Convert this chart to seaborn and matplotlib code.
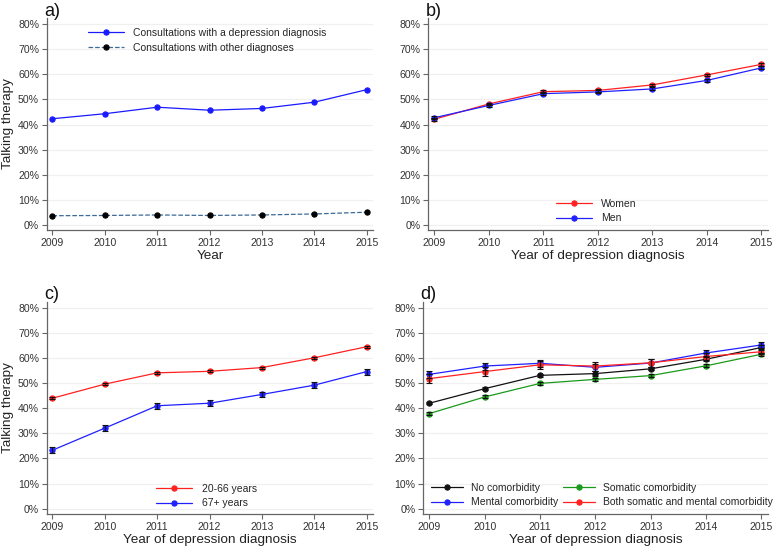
import numpy as np
import pandas as pd
import matplotlib
matplotlib.use("Agg")
import matplotlib.pyplot as plt
import seaborn as sns
from matplotlib.ticker import FuncFormatter

years = [2009, 2010, 2011, 2012, 2013, 2014, 2015]

# Panel a
a_depression = [42.3, 44.3, 46.9, 45.7, 46.4, 48.9, 53.9]
a_other = [3.6, 3.7, 3.9, 3.7, 3.9, 4.3, 5.0]

# Panel b
b_women = [42.1, 48.2, 53.1, 53.6, 55.8, 59.8, 64.0]
b_women_err = [0.6, 0.5, 0.5, 0.5, 0.5, 0.5, 0.5]
b_men = [42.7, 47.6, 52.3, 53.0, 54.2, 57.6, 62.6]
b_men_err = [0.6, 0.6, 0.6, 0.6, 0.6, 0.6, 0.6]

# Panel c
c_young = [44.0, 49.6, 54.1, 54.7, 56.2, 60.1, 64.5]
c_young_err = [0.4, 0.4, 0.4, 0.4, 0.4, 0.4, 0.4]
c_old = [23.3, 32.1, 41.0, 42.0, 45.5, 49.2, 54.6]
c_old_err = [1.1, 1.1, 1.1, 1.1, 1.1, 1.1, 1.2]

# Panel d
d_none = [42.0, 47.8, 53.1, 53.8, 55.7, 59.5, 64.2]
d_none_err = [0.5, 0.5, 0.5, 0.9, 0.6, 0.8, 0.9]
d_mental = [53.5, 56.8, 57.9, 56.3, 58.0, 62.0, 65.2]
d_mental_err = [1.3, 1.4, 1.3, 1.5, 1.5, 1.1, 1.2]
d_somatic = [37.9, 44.5, 49.9, 51.5, 53.0, 56.9, 61.5]
d_somatic_err = [0.6, 0.6, 0.6, 0.6, 0.6, 0.6, 0.6]
d_both = [51.8, 54.6, 57.3, 56.8, 58.1, 60.6, 62.5]
d_both_err = [1.8, 1.8, 1.7, 1.8, 1.7, 1.2, 1.0]

panel_labels = ["a)", "b)", "c)", "d)"]
x_labels = ["Year", "Year of depression diagnosis",
            "Year of depression diagnosis", "Year of depression diagnosis"]
y_label = "Talking therapy"

sns.set_theme(style="white")
plt.rcParams['font.family'] = ['Liberation Sans', 'DejaVu Sans']

W, H = 778, 547
fig = plt.figure(figsize=(W / 100, H / 100), dpi=100)

def box(l, r, t, b):
    return [l / W, 1 - b / H, (r - l) / W, (b - t) / H]

axes = [
    fig.add_axes(box(46.7, 373, 18, 230)),
    fig.add_axes(box(428.3, 768, 18, 230)),
    fig.add_axes(box(46.7, 373, 301.5, 514)),
    fig.add_axes(box(423.3, 768, 301.5, 514)),
]

tick_color = "#333333"
spine_color = "#666666"

def style(ax, label, xlabel, ylabel):
    ax.set_xlim(2008.89, 2015.12)
    ax.set_ylim(-2.1, 82.5)
    ax.set_yticks(range(0, 81, 10))
    ax.set_xticks(years)
    ax.yaxis.set_major_formatter(FuncFormatter(lambda v, p: f"{int(v)}%"))
    ax.grid(axis="y", color="#f0f0f0", linewidth=0.9)
    ax.set_axisbelow(True)
    for s in ["top", "right"]:
        ax.spines[s].set_visible(False)
    for s in ["left", "bottom"]:
        ax.spines[s].set_color(spine_color)
        ax.spines[s].set_linewidth(0.9)
    ax.tick_params(axis="both", which="major", direction="out", length=3.5,
                   width=0.8, color=spine_color, labelsize=7.6,
                   labelcolor=tick_color, pad=2, left=True, bottom=True)
    ax.set_xlabel(xlabel, fontsize=9.7, color="#222222", labelpad=1.5)
    if ylabel:
        ax.set_ylabel(ylabel, fontsize=9.7, color="#222222", labelpad=3)
    else:
        ax.set_ylabel("")
    ax.text(-0.008, 1.01, label, transform=ax.transAxes, fontsize=13,
            color="#111111", ha="left", va="baseline")

def series(ax, vals, color, label, err=None, ls="-", mcolor=None):
    df = pd.DataFrame({"year": years, "value": vals})
    sns.lineplot(data=df, x="year", y="value", ax=ax, color=color,
                 linestyle=ls, linewidth=0.9, marker="o", markersize=3.8,
                 markerfacecolor=mcolor or color, markeredgecolor=mcolor or color,
                 label=label, errorbar=None)
    if err is not None:
        ax.errorbar(years, vals, yerr=err, fmt="none", ecolor="#111111",
                    elinewidth=0.8, capsize=2.2, capthick=0.8, zorder=3)

leg_kw = dict(frameon=False, fontsize=7.5, handlelength=3.45, handletextpad=0.9,
              labelspacing=0.45, borderpad=0)

# a
ax = axes[0]
series(ax, a_depression, "#1a1aff", "Consultations with a depression diagnosis")
series(ax, a_other, "#3d6a96", "Consultations with other diagnoses", ls="--", mcolor="#000000")
ax.legend(loc="upper left", bbox_to_anchor=(0.111, 0.977), **leg_kw)
style(ax, panel_labels[0], x_labels[0], y_label)

# b
ax = axes[1]
series(ax, b_women, "#ff2020", "Women", b_women_err)
series(ax, b_men, "#2020ff", "Men", b_men_err)
ax.legend(loc="upper left", bbox_to_anchor=(0.36, 0.172), **leg_kw)
style(ax, panel_labels[1], x_labels[1], None)

# c
ax = axes[2]
series(ax, c_young, "#ff2020", "20-66 years", c_young_err)
series(ax, c_old, "#2020ff", "67+ years", c_old_err)
ax.legend(loc="upper left", bbox_to_anchor=(0.32, 0.168), **leg_kw)
style(ax, panel_labels[2], x_labels[2], y_label)

# d
ax = axes[3]
series(ax, d_none, "#111111", "No comorbidity", d_none_err)
series(ax, d_mental, "#2020ff", "Mental comorbidity", d_mental_err)
series(ax, d_somatic, "#1a9a1a", "Somatic comorbidity", d_somatic_err)
series(ax, d_both, "#ff2020", "Both somatic and mental comorbidity", d_both_err)
ax.legend(ncol=2, loc="upper left", bbox_to_anchor=(0.008, 0.172),
          columnspacing=0.5, frameon=False, fontsize=7.5, handlelength=3.0,
          handletextpad=0.8, labelspacing=0.45, borderpad=0)
style(ax, panel_labels[3], x_labels[3], None)

fig.savefig("out.png", dpi=100)
